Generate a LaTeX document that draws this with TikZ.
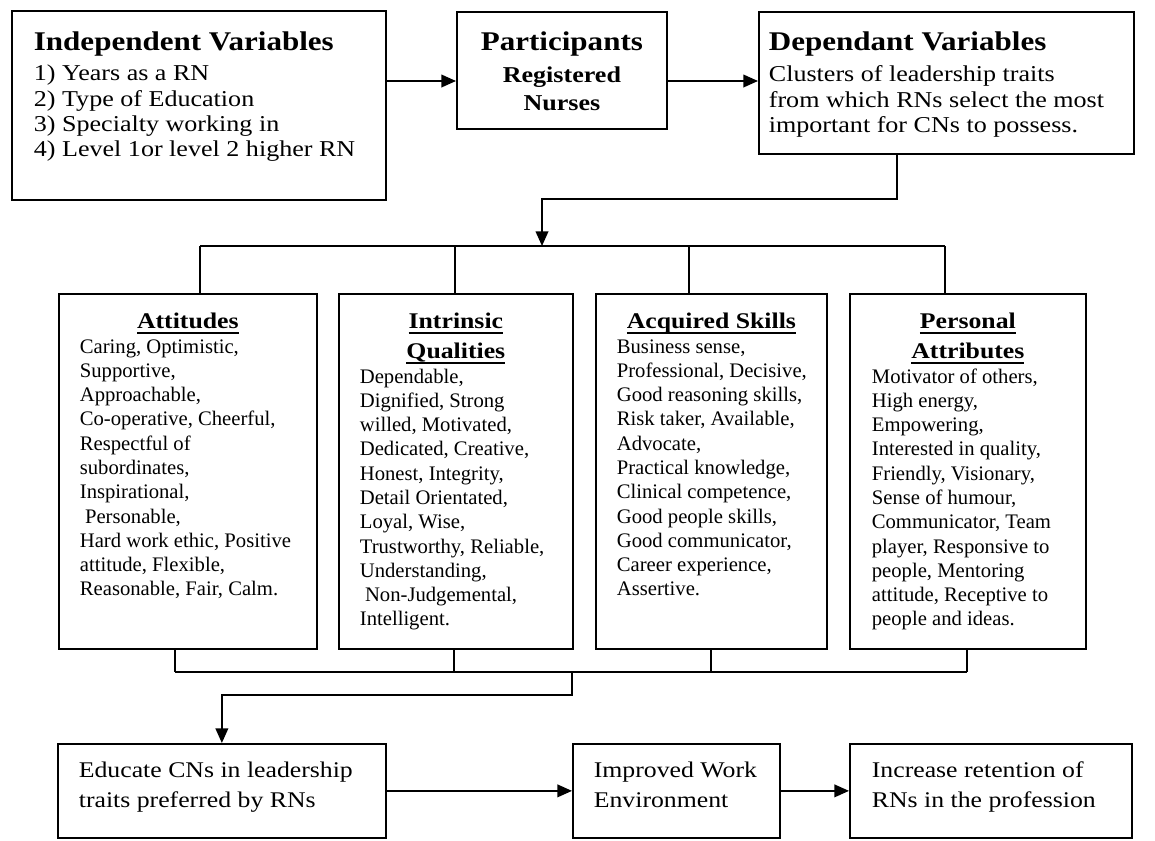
\documentclass[tikz,border=0pt]{standalone}
\usepackage{fontspec}
\setmainfont{Liberation Serif}[FakeStretch=1.15]
\newfontfamily\plainserif{Liberation Serif}
\usepackage{tikz}
\usetikzlibrary{arrows.meta}
\newcommand{\flowarrow}{-{Triangle[length=11pt,width=9.5pt]}}
\newcommand{\headfont}{\fontsize{20.25pt}{22.5pt}\bfseries\selectfont}
\newcommand{\bodyfont}{\fontsize{17pt}{19pt}\mdseries\selectfont}
\newcommand{\clusterhead}{\fontsize{16.8pt}{22.5pt}\bfseries\selectfont}
\newcommand{\clusterbody}{\plainserif\fontsize{15.5pt}{18.2pt}\mdseries\selectfont}
\newcommand{\stepfont}{\fontsize{16.8pt}{22.5pt}\mdseries\selectfont}
\newcommand{\ulhead}[1]{\leavevmode\setbox0=\hbox{#1}\rlap{\rule[-3.9pt]{\wd0}{1.4pt}}\box0}
\tikzset{
  box/.style={draw,line width=1.3pt,anchor=north west,inner sep=0pt},
  link/.style={line width=1.3pt},
}

\begin{document}
\begin{tikzpicture}[x=0.75pt,y=-0.75pt]
	\useasboundingbox (0,0) rectangle (1155,840);
	\node[box] (indep) at (11,10) {\parbox[c][141.75pt][t]{280.5pt}{\raggedright\leftskip=16.5pt
		\headfont\rule{0pt}{30pt}Independent Variables\\[3.5pt]
		\bodyfont 1) Years as a RN\\2) Type of Education\\3) Specialty working in\\4) Level 1or level 2 higher RN\par}};
	\node[box] (part) at (456,11) {\parbox[c][87.75pt][t]{157.5pt}{\centering
		\headfont\rule{0pt}{29.25pt}Participants\\[3pt]
		\fontsize{17pt}{21pt}\selectfont Registered\\Nurses\par}};
	\node[box] (dep) at (758,11) {\parbox[c][106.5pt][t]{281.25pt}{\raggedright\leftskip=7.5pt
		\headfont\rule{0pt}{29.25pt}Dependant Variables\\[4.25pt]
		\bodyfont Clusters of leadership traits\\from which RNs select the most\\important for CNs to possess.\par}};
	\node[box] (att) at (58,293) {\parbox[c][266.25pt][t]{193.5pt}{\centering
		\clusterhead\rule{0pt}{26.25pt}\ulhead{Attitudes}\par
		\raggedright\leftskip=15.75pt\clusterbody
		Caring, Optimistic,\\Supportive,\\Approachable,\\Co-operative, Cheerful,\\Respectful of\\subordinates,\\Inspirational,\\\ Personable,\\Hard work ethic, Positive\\attitude, Flexible,\\Reasonable, Fair, Calm.\par}};
	\node[box] (intr) at (338,293) {\parbox[c][266.25pt][t]{175.5pt}{\centering
		\clusterhead\rule{0pt}{26.25pt}\ulhead{Intrinsic}\\\ulhead{Qualities}\par
		\raggedright\leftskip=15.75pt\clusterbody
		Dependable,\\Dignified, Strong\\willed, Motivated,\\Dedicated, Creative,\\Honest, Integrity,\\Detail Orientated,\\Loyal, Wise,\\Trustworthy, Reliable,\\Understanding,\\\ Non-Judgemental,\\Intelligent.\par}};
	\node[box] (acq) at (595,293) {\parbox[c][266.25pt][t]{173.25pt}{\centering
		\clusterhead\rule{0pt}{26.25pt}\ulhead{Acquired Skills}\par
		\raggedright\leftskip=15.75pt\clusterbody
		Business sense,\\Professional, Decisive,\\Good reasoning skills,\\Risk taker, Available,\\Advocate,\\Practical knowledge,\\Clinical competence,\\Good people skills,\\Good communicator,\\Career experience,\\Assertive.\par}};
	\node[box] (pers) at (849,293) {\parbox[c][266.25pt][t]{177pt}{\centering
		\clusterhead\rule{0pt}{26.25pt}\ulhead{Personal}\\\ulhead{Attributes}\par
		\raggedright\leftskip=16.5pt\clusterbody
		Motivator of others,\\High energy,\\Empowering,\\Interested in quality,\\Friendly, Visionary,\\Sense of humour,\\Communicator, Team\\player, Responsive to\\people, Mentoring\\attitude, Receptive to\\people and ideas.\par}};
	\node[box] (edu) at (57,743) {\parbox[c][70.5pt][t]{246pt}{\raggedright\leftskip=15.75pt
		\stepfont\rule{0pt}{25.5pt}Educate CNs in leadership\\traits preferred by RNs\par}};
	\node[box] (impr) at (572,743) {\parbox[c][70.5pt][t]{155.25pt}{\raggedright\leftskip=15.75pt
		\stepfont\rule{0pt}{25.5pt}Improved Work\\Environment\par}};
	\node[box] (incr) at (849,743) {\parbox[c][70.5pt][t]{211.5pt}{\raggedright\leftskip=16.5pt
		\stepfont\rule{0pt}{25.5pt}Increase retention of\\RNs in the profession\par}};
	\coordinate (rowA) at (0,81);
	\coordinate (drop) at (897,199);
	\coordinate (split) at (542,246);
	\coordinate (tA) at (200,246);
	\coordinate (tB) at (455,246);
	\coordinate (tC) at (689,246);
	\coordinate (tD) at (945,246);
	\coordinate (bA) at (175,672);
	\coordinate (bB) at (454,672);
	\coordinate (bC) at (711,672);
	\coordinate (bD) at (967,672);
	\coordinate (bS) at (572,672);
	\coordinate (turn) at (572,695);
	\draw[link,\flowarrow] (indep.east |- rowA) -- (part.west |- rowA);
	\draw[link,\flowarrow] (part.east |- rowA) -- (dep.west |- rowA);
	\draw[link,\flowarrow] (dep.south -| drop) -- (drop) -| (split);
	\draw[link] (tA) -- (tD);
	\draw[link] (tA) -- (att.north -| tA);
	\draw[link] (tB) -- (intr.north -| tB);
	\draw[link] (tC) -- (acq.north -| tC);
	\draw[link] (tD) -- (pers.north -| tD);
	\draw[link] (att.south -| bA) -- (bA);
	\draw[link] (intr.south -| bB) -- (bB);
	\draw[link] (acq.south -| bC) -- (bC);
	\draw[link] (pers.south -| bD) -- (bD);
	\draw[link] (bA) -- (bD);
	\draw[link,\flowarrow] (bS) -- (turn) -| (edu.north);
	\draw[link,\flowarrow] (edu.east) -- (impr.west);
	\draw[link,\flowarrow] (impr.east) -- (incr.west);
\end{tikzpicture}
\end{document}
